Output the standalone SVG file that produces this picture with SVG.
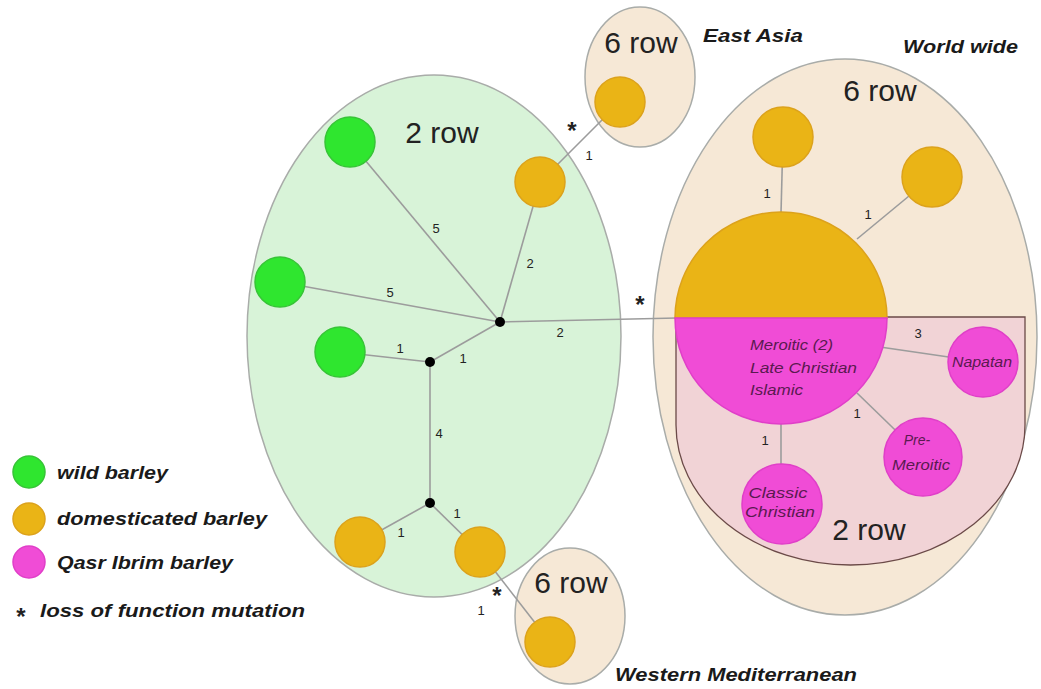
<svg xmlns="http://www.w3.org/2000/svg" width="1041" height="689" viewBox="0 0 1041 689">
<style>
.reg{stroke:#a9aca9;stroke-width:1.5}
.bei{fill:#f6e8d6}
.grn{fill:#2fe62f;stroke:#37c437;stroke-width:1.5}
.org{fill:#eab416;stroke:#dca21c;stroke-width:1.5}
.mag{fill:#f04cd6;stroke:#e03fc8;stroke-width:1.5}
.edge{stroke:#9c9c9c;stroke-width:1.6;fill:none}
.num{font-family:"Liberation Sans",Arial,sans-serif;font-size:13px;fill:#222;text-anchor:middle}
.row{font-family:"Liberation Sans",Arial,sans-serif;font-size:30px;fill:#222;text-anchor:middle}
.lab{font-family:"Liberation Sans",Arial,sans-serif;font-size:19px;font-weight:bold;font-style:italic;fill:#1a1a1a}
.in{font-family:"Liberation Sans",Arial,sans-serif;font-size:14px;font-style:italic;fill:#5a1a50}
.mid{text-anchor:middle}
.star{font-family:"Liberation Sans",Arial,sans-serif;font-size:24px;font-weight:bold;fill:#222;text-anchor:middle}
</style>
<rect width="1041" height="689" fill="#ffffff"/>
<g id="regions">
<ellipse id="region-2row-left" class="reg" cx="434" cy="336" rx="187" ry="261" fill="#d8f3d8"/>
<ellipse id="region-worldwide" class="reg bei" cx="845" cy="337" rx="192" ry="278"/>
<ellipse id="region-eastasia" class="reg bei" cx="640" cy="77" rx="55" ry="70"/>
<ellipse id="region-westmed" class="reg bei" cx="570" cy="616" rx="55" ry="68"/>
<path id="region-2row-right" d="M676,317 H1025 V425 A174.5,140 0 0 1 676,425 Z" fill="#f1d3d6" stroke="#6b4a48" stroke-width="1.3"/>
</g>
<g id="connectors">
<line class="edge" x1="500" y1="322" x2="350" y2="142"/>
<line class="edge" x1="500" y1="322" x2="280" y2="282"/>
<line class="edge" x1="500" y1="322" x2="540" y2="182"/>
<line class="edge" x1="500" y1="322" x2="677" y2="318"/>
<line class="edge" x1="430" y1="362" x2="340" y2="352"/>
<line class="edge" x1="430" y1="362" x2="500" y2="322"/>
<line class="edge" x1="430" y1="362" x2="430" y2="503"/>
<line class="edge" x1="430" y1="503" x2="360" y2="542"/>
<line class="edge" x1="430" y1="503" x2="480" y2="552"/>
<line class="edge" x1="480" y1="552" x2="550" y2="642"/>
<line class="edge" x1="540" y1="182" x2="620" y2="102"/>
<line class="edge" x1="781" y1="213" x2="783" y2="137"/>
<line class="edge" x1="932" y1="177" x2="857" y2="239"/>
<line class="edge" x1="880" y1="347" x2="983" y2="362"/>
<line class="edge" x1="857" y1="393" x2="923" y2="457"/>
<line class="edge" x1="781" y1="420" x2="781" y2="504"/>
</g>
<g id="hub-a"><circle cx="500" cy="322" r="5" fill="#000"/></g>
<g id="hub-b"><circle cx="430" cy="362" r="5" fill="#000"/></g>
<g id="hub-c"><circle cx="430" cy="503" r="5" fill="#000"/></g>
<g id="wild-1"><circle class="grn" cx="350" cy="142" r="25"/></g>
<g id="wild-2"><circle class="grn" cx="280" cy="282" r="25"/></g>
<g id="wild-3"><circle class="grn" cx="340" cy="352" r="25"/></g>
<g id="dom-1"><circle class="org" cx="540" cy="182" r="25"/></g>
<g id="dom-2"><circle class="org" cx="360" cy="542" r="25"/></g>
<g id="dom-3"><circle class="org" cx="480" cy="552" r="25"/></g>
<g id="dom-eastasia"><circle class="org" cx="620" cy="102" r="25"/></g>
<g id="dom-westmed"><circle class="org" cx="550" cy="642" r="25"/></g>
<g id="dom-ww-1"><circle class="org" cx="783" cy="137" r="30"/></g>
<g id="dom-ww-2"><circle class="org" cx="932" cy="177" r="30"/></g>
<g id="big-node">
<path class="org" d="M675,318 A106,106 0 0 1 887,318 Z" stroke="#c99a1a"/>
<path class="mag" d="M675,318 A106,106 0 0 0 887,318 Z" stroke="none"/>
<text class="in" x="750" y="350" textLength="83" lengthAdjust="spacingAndGlyphs">Meroitic (2)</text>
<text class="in" x="750" y="373" textLength="107" lengthAdjust="spacingAndGlyphs">Late Christian</text>
<text class="in" x="750" y="395" textLength="53" lengthAdjust="spacingAndGlyphs">Islamic</text>
</g>
<g id="napatan"><circle class="mag" cx="983" cy="362" r="35"/><text class="in mid" x="982" y="367" textLength="60" lengthAdjust="spacingAndGlyphs">Napatan</text></g>
<g id="pre-meroitic"><circle class="mag" cx="923" cy="457" r="39"/><text class="in mid" x="917" y="445">Pre-</text><text class="in mid" x="921" y="470" textLength="58" lengthAdjust="spacingAndGlyphs">Meroitic</text></g>
<g id="classic-christian"><circle class="mag" cx="782" cy="504" r="40"/><text class="in mid" x="778" y="498" textLength="59" lengthAdjust="spacingAndGlyphs">Classic</text><text class="in mid" x="780" y="517" textLength="70" lengthAdjust="spacingAndGlyphs">Christian</text></g>
<g id="labels">
<text class="num" x="436" y="233">5</text>
<text class="num" x="390" y="297">5</text>
<text class="num" x="530" y="268">2</text>
<text class="num" x="560" y="337">2</text>
<text class="num" x="400" y="353">1</text>
<text class="num" x="463" y="363">1</text>
<text class="num" x="439" y="438">4</text>
<text class="num" x="401" y="537">1</text>
<text class="num" x="457" y="518">1</text>
<text class="num" x="481" y="615">1</text>
<text class="num" x="589" y="160">1</text>
<text class="num" x="767" y="198">1</text>
<text class="num" x="868" y="219">1</text>
<text class="num" x="918" y="338">3</text>
<text class="num" x="857" y="418">1</text>
<text class="num" x="765" y="445">1</text>
<text class="star" x="572" y="139">*</text>
<text class="star" x="640" y="313">*</text>
<text class="star" x="497" y="604">*</text>
<text class="row" x="442" y="143">2 row</text>
<text class="row" x="641" y="53">6 row</text>
<text class="row" x="880" y="101">6 row</text>
<text class="row" x="571" y="593">6 row</text>
<text class="row" x="869" y="540">2 row</text>
<text class="lab" x="703" y="42" textLength="100" lengthAdjust="spacingAndGlyphs">East Asia</text>
<text class="lab" x="903" y="53" textLength="115" lengthAdjust="spacingAndGlyphs">World wide</text>
<text class="lab" x="615" y="681" textLength="242" lengthAdjust="spacingAndGlyphs">Western Mediterranean</text>
</g>
<g id="legend">
<circle class="grn" cx="29" cy="472" r="16"/>
<circle class="org" cx="29" cy="519" r="16"/>
<circle class="mag" cx="29" cy="562" r="16"/>
<text class="lab" x="57" y="479" textLength="111" lengthAdjust="spacingAndGlyphs">wild barley</text>
<text class="lab" x="57" y="525" textLength="210" lengthAdjust="spacingAndGlyphs">domesticated barley</text>
<text class="lab" x="57" y="569" textLength="176" lengthAdjust="spacingAndGlyphs">Qasr Ibrim barley</text>
<text class="star" x="21" y="625" font-size="20">*</text>
<text class="lab" x="40" y="617" textLength="265" lengthAdjust="spacingAndGlyphs">loss of function mutation</text>
</g>
</svg>
